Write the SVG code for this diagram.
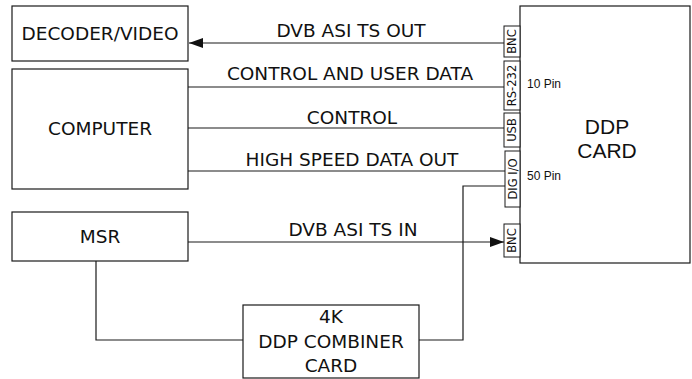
<svg xmlns="http://www.w3.org/2000/svg" width="692" height="379" viewBox="0 0 692 379">
<style>
  .box { fill: #fff; stroke: #1a1a1a; stroke-width: 1.2; }
  .conn { fill: #fff; stroke: #1a1a1a; stroke-width: 1; }
  .wire { fill: none; stroke: #1a1a1a; stroke-width: 1.2; }
  .lbl { font-family: "DejaVu Sans", Tahoma, sans-serif; font-size: 18.5px; fill: #111; text-anchor: middle; }
  .big { font-family: "Liberation Sans", Arial, sans-serif; font-size: 21px; fill: #111; text-anchor: middle; }
  .pin { font-family: "Liberation Sans", Arial, sans-serif; font-size: 12px; fill: #111; }
  .port { font-family: "DejaVu Sans", Tahoma, sans-serif; font-size: 11.5px; fill: #111; text-anchor: middle; }
</style>
<defs>
  <marker id="arr" markerUnits="userSpaceOnUse" markerWidth="14" markerHeight="10" refX="14" refY="5" orient="auto">
    <path d="M0,0 L14,5 L0,10 z" fill="#111"/>
  </marker>
</defs>
<rect width="692" height="379" fill="#fff"/>

<g id="connectors">
  <line class="wire" x1="504" y1="43" x2="189" y2="43" marker-end="url(#arr)"/>
  <line class="wire" x1="184" y1="87" x2="504" y2="87"/>
  <line class="wire" x1="184" y1="128" x2="504" y2="128"/>
  <line class="wire" x1="184" y1="171" x2="505" y2="171"/>
  <polyline class="wire" points="505,186 463,186 463,340 419,340"/>
  <line class="wire" x1="188" y1="242" x2="504" y2="242" marker-end="url(#arr)"/>
  <polyline class="wire" points="96,261 96,340 243,340"/>
  <text class="lbl" x="351" y="37">DVB ASI TS OUT</text>
  <text class="lbl" x="350" y="80">CONTROL AND USER DATA</text>
  <text class="lbl" x="352" y="124">CONTROL</text>
  <text class="lbl" x="352" y="166">HIGH SPEED DATA OUT</text>
  <text class="lbl" x="353" y="236">DVB ASI TS IN</text>
</g>

<g id="decoder">
  <rect class="box" x="12" y="6" width="176" height="55"/>
  <text class="lbl" x="100" y="40">DECODER/VIDEO</text>
</g>

<g id="computer">
  <rect class="box" x="12" y="69" width="176" height="120"/>
  <text class="lbl" x="100" y="135">COMPUTER</text>
</g>

<g id="msr">
  <rect class="box" x="12" y="212" width="176" height="49"/>
  <text class="lbl" x="100" y="243">MSR</text>
</g>

<g id="combiner">
  <rect class="box" x="243" y="305" width="176" height="73"/>
  <text class="lbl" x="331" y="323">4K</text>
  <text class="lbl" x="331" y="348">DDP COMBINER</text>
  <text class="lbl" x="331" y="372">CARD</text>
</g>

<g id="ddp">
  <rect class="box" x="520" y="6" width="170" height="257"/>
  <text class="big" x="607" y="134">DDP</text>
  <text class="big" x="607" y="158">CARD</text>
  <text class="pin" x="527" y="88">10 Pin</text>
  <text class="pin" x="527" y="180">50 Pin</text>
</g>

<g id="port-bnc-out">
  <rect class="conn" x="504" y="26" width="16" height="31"/>
  <text class="port" transform="translate(516.3,41.5) rotate(-90)">BNC</text>
</g>
<g id="port-rs232">
  <rect class="conn" x="504" y="61" width="16" height="49"/>
  <text class="port" transform="translate(516.3,85.5) rotate(-90)">RS-232</text>
</g>
<g id="port-usb">
  <rect class="conn" x="504" y="113" width="16" height="34"/>
  <text class="port" transform="translate(516.3,130) rotate(-90)">USB</text>
</g>
<g id="port-dig">
  <rect class="conn" x="505" y="151" width="15" height="56"/>
  <text class="port" transform="translate(516.8,179) rotate(-90)">DIG I/O</text>
</g>
<g id="port-bnc-in">
  <rect class="conn" x="504" y="224" width="16" height="33"/>
  <text class="port" transform="translate(516.3,240.5) rotate(-90)">BNC</text>
</g>
</svg>
